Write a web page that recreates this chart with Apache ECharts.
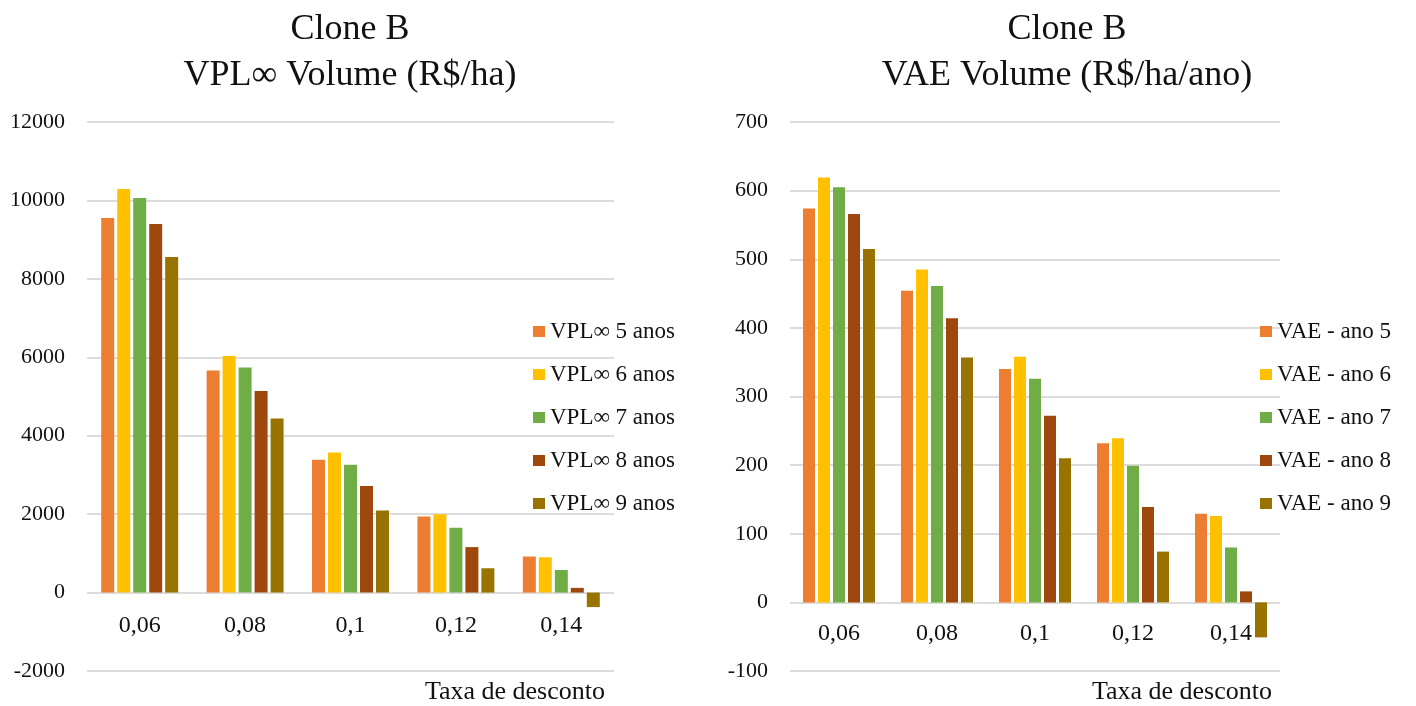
<!DOCTYPE html>
<html>
<head>
<meta charset="utf-8">
<script src="https://cdn.jsdelivr.net/npm/echarts@6/dist/echarts.min.js"></script>
<style>
  html, body { margin: 0; padding: 0; background: #fff; }
  #chart { width: 1416px; height: 706px; }
</style>
</head>
<body>
<div id="chart"></div>
<script>
// Discount rates (x categories)
const categories = ['0,06', '0,08', '0,1', '0,12', '0,14'];

// VPL∞ Volume (R$/ha) by rotation age
const vpl5 = [9550, 5660, 3390, 1940, 920];
const vpl6 = [10290, 6030, 3570, 2000, 900];
const vpl7 = [10060, 5740, 3260, 1650, 575];
const vpl8 = [9400, 5140, 2720, 1160, 120];
const vpl9 = [8560, 4440, 2090, 620, -370];

// VAE Volume (R$/ha/ano) by rotation age
const vae5 = [574, 454, 340, 232, 129];
const vae6 = [619, 485, 358, 239, 126];
const vae7 = [605, 461, 326, 199, 80];
const vae8 = [566, 414, 272, 139, 16];
const vae9 = [515, 357, 210, 74, -51];

const vplNames = ['VPL∞ 5 anos', 'VPL∞ 6 anos', 'VPL∞ 7 anos', 'VPL∞ 8 anos', 'VPL∞ 9 anos'];
const vaeNames = ['VAE - ano 5', 'VAE - ano 6', 'VAE - ano 7', 'VAE - ano 8', 'VAE - ano 9'];

const colors = ['#ED7D31', '#FFC000', '#70AD47', '#9E480E', '#997300'];
const FONT = 'Liberation Serif';
const TXT = '#111';
const GRID_LINE = { color: '#dcdcdc', width: 2 };

function yAxisCfg(gridIndex, min, max, interval) {
  return {
    type: 'value', gridIndex, min, max, interval,
    axisLine: { show: false }, axisTick: { show: false },
    axisLabel: { color: TXT, fontFamily: FONT, fontSize: 22, margin: 22,
      formatter: v => String(v) },
    splitLine: { lineStyle: GRID_LINE }
  };
}
// Category labels sit just under the zero line, so they are pulled up
// from the bottom of the plot area with a negative margin.
function xAxisCfg(gridIndex, labelMargin) {
  return {
    type: 'category', gridIndex, data: categories,
    axisLine: { show: false, onZero: false },
    axisTick: { show: false },
    axisLabel: { color: TXT, fontFamily: FONT, fontSize: 24, margin: labelMargin }
  };
}
function barSeries(names, arrays, axisIndex, barWidth, barGap) {
  return arrays.map((arr, i) => ({
    type: 'bar', name: names[i], data: arr,
    xAxisIndex: axisIndex, yAxisIndex: axisIndex,
    barWidth, barGap,
    itemStyle: { color: colors[i] }
  }));
}
function legendCfg(names, left) {
  return {
    data: names, orient: 'vertical', left, top: 320, padding: 0,
    icon: 'rect', itemWidth: 12, itemHeight: 11, itemGap: 20,
    textStyle: { color: TXT, fontFamily: FONT, fontSize: 23, lineHeight: 23 }
  };
}
function titleCfg(text, x) {
  return {
    text, left: x, top: 7, textAlign: 'center', padding: 0,
    textStyle: { color: TXT, fontFamily: FONT, fontSize: 36, fontWeight: 'normal', lineHeight: 46 }
  };
}

const chart = echarts.init(document.getElementById('chart'), null, { renderer: 'canvas' });
chart.setOption({
  animation: false,
  title: [
    titleCfg('Clone B\nVPL∞ Volume (R$/ha)', 350),
    titleCfg('Clone B\nVAE Volume (R$/ha/ano)', 1067)
  ],
  legend: [legendCfg(vplNames, 533), legendCfg(vaeNames, 1260)],
  grid: [
    { left: 87, right: 802, top: 122, bottom: 35, outerBoundsMode: 'none', containLabel: false },
    { left: 790, right: 136, top: 122, bottom: 35, outerBoundsMode: 'none', containLabel: false }
  ],
  xAxis: [xAxisCfg(0, -57), xAxisCfg(1, -49)],
  yAxis: [yAxisCfg(0, -2000, 12000, 2000), yAxisCfg(1, -100, 700, 100)],
  series: [
    ...barSeries(vplNames, [vpl5, vpl6, vpl7, vpl8, vpl9], 0, 13, '23%'),
    ...barSeries(vaeNames, [vae5, vae6, vae7, vae8, vae9], 1, 12, '25%')
  ],
  graphic: [
    { type: 'text', right: 1416 - 605, top: 679,
      style: { text: 'Taxa de desconto', fill: TXT, font: '26px "Liberation Serif"' } },
    { type: 'text', right: 1416 - 1272, top: 679,
      style: { text: 'Taxa de desconto', fill: TXT, font: '26px "Liberation Serif"' } }
  ]
});
</script>
</body>
</html>
